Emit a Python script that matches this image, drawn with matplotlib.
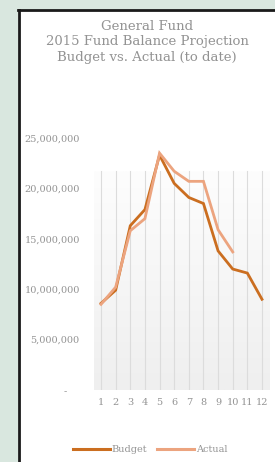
import numpy as np
import matplotlib
matplotlib.use("Agg")
import matplotlib.pyplot as plt
from matplotlib.patches import Rectangle
from matplotlib.lines import Line2D

months = [1, 2, 3, 4, 5, 6, 7, 8, 9, 10, 11, 12]
budget = [8.6e6, 9.9e6, 16.3e6, 17.9e6, 23.3e6, 20.5e6, 19.1e6, 18.5e6, 13.8e6, 12.0e6, 11.6e6, 9.0e6]
actual_months = [1, 2, 3, 4, 5, 6, 7, 8, 9, 10]
actual = [8.5e6, 10.2e6, 15.8e6, 17.0e6, 23.5e6, 21.7e6, 20.7e6, 20.7e6, 15.9e6, 13.7e6]
yticks = [0, 5e6, 10e6, 15e6, 20e6, 25e6]

BUDGET_C = "#cb6e20"
ACTUAL_C = "#eca47f"
TEXT_C = "#939393"
FONT = "DejaVu Serif"

fig = plt.figure(figsize=(2.75, 4.62), dpi=100)
fig.patch.set_facecolor("#d9e7df")

# white panel with dark border on top/left
fig.add_artist(Rectangle((18 / 275, 0), 1, 1 - 10 / 462, transform=fig.transFigure,
                         facecolor="white", edgecolor="none", zorder=-5))
fig.add_artist(Line2D([19 / 275, 19 / 275], [0, 1 - 10 / 462], transform=fig.transFigure,
                      color="#1a1a1a", lw=2.0, zorder=-4))
fig.add_artist(Line2D([18 / 275, 1], [1 - 10 / 462, 1 - 10 / 462], transform=fig.transFigure,
                      color="#1a1a1a", lw=2.0, zorder=-4))

ax = fig.add_axes([93.7 / 275, 72 / 462, (269.3 - 93.7) / 275, (390 - 138) / 462])
ax.set_facecolor("none")
ax.set_xlim(0.5, 12.5)
ax.set_ylim(0, 25e6)

# plot area gradient (light grey at bottom to white at top)
top = 21.7e6
grad = np.linspace(0, 1, 100).reshape(-1, 1)
ax.imshow(grad, extent=(0.5, 12.5, 0, top), origin="lower", aspect="auto",
          cmap=matplotlib.colors.LinearSegmentedColormap.from_list("g", ["#efefef", "#fdfdfd"]),
          zorder=0)
for m in months:
    ax.plot([m, m], [0, top], color="#dcdcdc", lw=0.8, zorder=1)

ax.plot(months, budget, color=BUDGET_C, lw=2.0, zorder=3, solid_joinstyle="miter")
ax.plot(actual_months, actual, color=ACTUAL_C, lw=2.0, zorder=3, solid_joinstyle="miter")

for s in ax.spines.values():
    s.set_visible(False)
ax.set_xticks(months)
ax.set_xticklabels([str(m) for m in months], fontfamily=FONT, fontsize=7, color=TEXT_C)
ax.set_yticks(yticks)
ax.set_yticklabels(["-    "] + [f"{v:,.0f}" for v in yticks[1:]], fontfamily=FONT, fontsize=7, color=TEXT_C)
ax.tick_params(length=0)
ax.tick_params(axis="y", pad=10)
ax.tick_params(axis="x", pad=6)

fig.text(147 / 275, 1 - 42 / 462, "General Fund\n2015 Fund Balance Projection\nBudget vs. Actual (to date)",
         ha="center", va="center", fontfamily=FONT, fontsize=9.5, color=TEXT_C, linespacing=1.25)

handles = [Line2D([], [], color=BUDGET_C, lw=2.2), Line2D([], [], color=ACTUAL_C, lw=2.2)]
fig.legend(handles, ["Budget", "Actual"], loc="center", bbox_to_anchor=(150 / 275, 1 - 450 / 462),
           ncol=2, frameon=False, prop={"family": FONT, "size": 7}, labelcolor=TEXT_C,
           handlelength=3.8, handletextpad=0.2, columnspacing=1.0)

fig.savefig("out.png", dpi=100)
